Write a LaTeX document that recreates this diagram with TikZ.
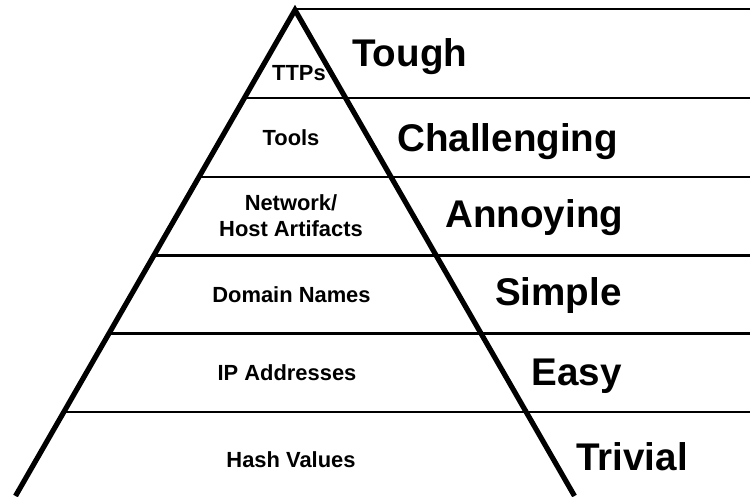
\documentclass[tikz,border=0pt]{standalone}
\usepackage{fontspec}
\setmainfont{Liberation Sans}
\usetikzlibrary{calc}
\begin{document}
\begin{tikzpicture}[x=1pt,y=-1pt,
  side/.style={line width=5.2pt,line join=miter,black},
  hline/.style={line width=2.2pt,black},
  lvl/.style={font=\fontsize{21.9}{26}\selectfont\bfseries,anchor=base,inner sep=0pt,align=center},
  pain/.style={font=\fontsize{38.6}{44}\selectfont\bfseries,anchor=base west,inner sep=0pt}]
\useasboundingbox (0,0) rectangle (750,496);
\coordinate (apex) at (295,10);
\coordinate (bl) at (15.5,496);
\coordinate (br) at (574.5,496);
\coordinate (rt) at (750,0);
% level boundaries on left edge
\coordinate (t0) at (297,9);
\coordinate (l1) at ($(apex)!{(98-10)/486}!(bl)$);
\coordinate (l2) at ($(apex)!{(177-10)/486}!(bl)$);
\coordinate (l3) at ($(apex)!{(255.5-10)/486}!(bl)$);
\coordinate (l4) at ($(apex)!{(333.5-10)/486}!(bl)$);
\coordinate (l5) at ($(apex)!{(412-10)/486}!(bl)$);
\draw[hline] (t0) -- (t0 -| rt);
\draw[hline] (l1) -- (l1 -| rt);
\draw[hline] (l2) -- (l2 -| rt);
\draw[hline] (l3) -- (l3 -| rt);
\draw[hline] (l4) -- (l4 -| rt);
\draw[hline] (l5) -- (l5 -| rt);
\draw[side] (bl) -- (apex) -- (br);
% level labels
\node[lvl] (ttp) at (299,80) {TTPs};
\node[lvl] (tools) at (291,145) {Tools};
\node[lvl] (net) at (291,236.7) {Network/\\Host Artifacts};
\node[lvl] (dom) at (291.5,302.3) {Domain Names};
\node[lvl] (ip) at (287,380) {IP Addresses};
\node[lvl] (hash) at (291,467.3) {Hash Values};
% pain labels
\node[pain] (tough) at (352,66) {Tough};
\node[pain] (chal) at (397,151) {Challenging};
\node[pain] (ann) at (445,227.7) {Annoying};
\node[pain] (simp) at (495,305.7) {Simple};
\node[pain] (easy) at (531.5,385) {Easy};
\node[pain] (triv) at (576,470) {Trivial};
\end{tikzpicture}
\end{document}
